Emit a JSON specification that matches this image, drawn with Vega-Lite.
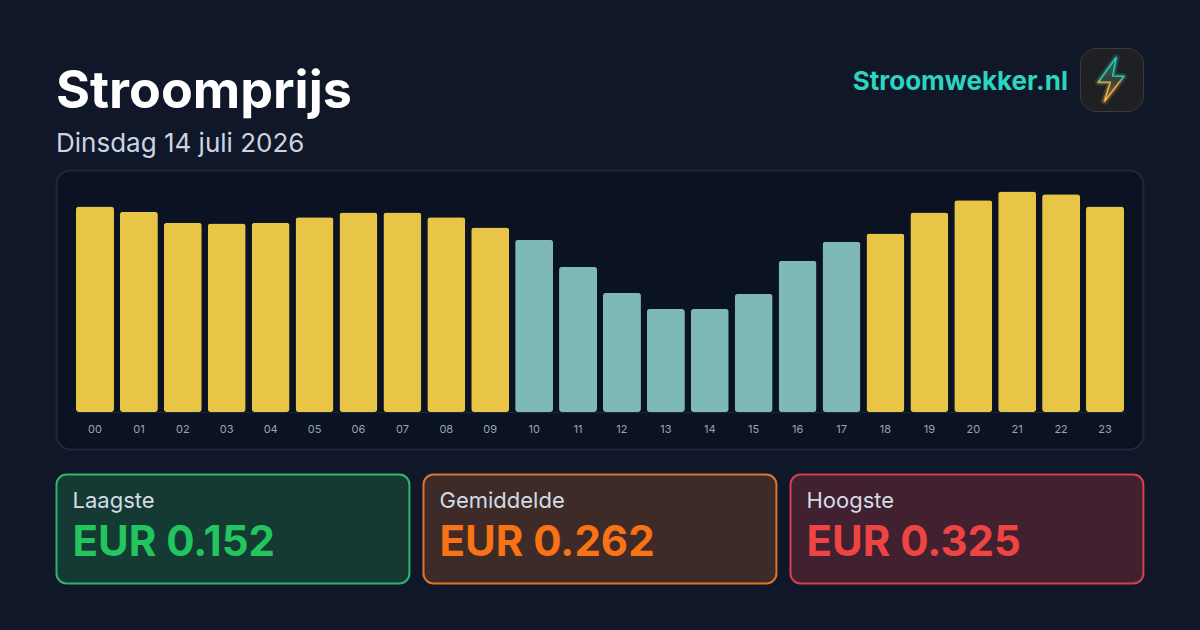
{
"$schema":"https://vega.github.io/schema/vega-lite/v6.json",
"background":"#0f1729",
"padding":{"left":55.5,"top":47,"right":55.5,"bottom":46},
"config":{"font":"Inter","view":{"stroke":null},"concat":{"spacing":0}},
"spacing":11.5,
"vconcat":[
 {"bounds":"flush","spacing":11.5,"hconcat":[
  {"width":1011.5,"height":110,
   "data":{"values":[
    {"tekst":"Stroomprijs","regel":"titel","rij":"boven","kant":"links"},
    {"tekst":"Dinsdag 14 juli 2026","regel":"datum","rij":"onder","kant":"links"},
    {"tekst":"Stroomwekker.nl","regel":"merk","rij":"boven","kant":"rechts"}]},
   "encoding":{
    "x":{"field":"kant","type":"nominal","axis":null,"scale":{"type":"point","padding":0,"domain":["links","rechts"],"range":[-0.5,1011.5]}},
    "y":{"field":"rij","type":"nominal","axis":null,"scale":{"type":"point","padding":0,"domain":["boven","onder"],"range":[41.5,103.5]}},
    "text":{"field":"tekst"}},
   "layer":[
    {"transform":[{"filter":"datum.regel==='titel'"}],"mark":{"type":"text","align":"left","baseline":"alphabetic","dy":18,"fontSize":52,"fontWeight":700,"color":"#ffffff"}},
    {"transform":[{"filter":"datum.regel==='datum'"}],"mark":{"type":"text","align":"left","baseline":"alphabetic","fontSize":26,"fontWeight":400,"color":"#cbd5e1"}},
    {"transform":[{"filter":"datum.regel==='merk'"}],"mark":{"type":"text","align":"right","baseline":"alphabetic","fontSize":26,"fontWeight":700,"color":"#2dd4bf"}}
   ]},
  {"width":63,"height":63,
   "view":{"fill":"#1f2024","stroke":"#3a3c40","strokeWidth":1,"cornerRadius":16},
   "data":{"values":[{"merk":"Stroomwekker.nl"}]},
   "layer":[
    {"mark":{"type":"point","shape":"M0.21,-0.99L-0.59,0.12L-0.05,0.12L-0.32,0.99L0.55,-0.14L0.05,-0.16Z","size":1936,"filled":false,"opacity":0.15,"strokeWidth":7,"strokeJoin":"round","stroke":{"gradient":"linear","x1":0,"y1":0,"x2":0,"y2":1,"stops":[{"offset":0,"color":"#2dd4bf"},{"offset":0.45,"color":"#2dd4bf"},{"offset":0.6,"color":"#f5b041"},{"offset":1,"color":"#f5b041"}]}}},
    {"mark":{"type":"point","shape":"M0.21,-0.99L-0.59,0.12L-0.05,0.12L-0.32,0.99L0.55,-0.14L0.05,-0.16Z","size":1936,"filled":false,"opacity":0.35,"strokeWidth":3.5,"strokeJoin":"round","stroke":{"gradient":"linear","x1":0,"y1":0,"x2":0,"y2":1,"stops":[{"offset":0,"color":"#2dd4bf"},{"offset":0.45,"color":"#2dd4bf"},{"offset":0.6,"color":"#f5b041"},{"offset":1,"color":"#f5b041"}]}}},
    {"mark":{"type":"point","shape":"M0.21,-0.99L-0.59,0.12L-0.05,0.12L-0.32,0.99L0.55,-0.14L0.05,-0.16Z","size":1936,"filled":false,"opacity":1,"strokeWidth":1.2,"fill":{"gradient":"linear","x1":0,"y1":0,"x2":0,"y2":1,"stops":[{"offset":0,"color":"#1f6f68"},{"offset":0.5,"color":"#3a4036"},{"offset":1,"color":"#8a6a2c"}]},"fillOpacity":1,"stroke":{"gradient":"linear","x1":0,"y1":0,"x2":0,"y2":1,"stops":[{"offset":0,"color":"#2dd4bf"},{"offset":0.45,"color":"#2dd4bf"},{"offset":0.6,"color":"#f7bd5a"},{"offset":1,"color":"#f7bd5a"}]}},"encoding":{}}
   ]}
 ]},
 {"spacing":23,"vconcat":[
 {"width":1087,"height":279,
  "view":{"fill":"#0b1322","stroke":"#1e293b","strokeWidth":2,"cornerRadius":14},
  "data":{"values":[
   {"uur":"00","prijs":0.303,"niveau":"hoog"},{"uur":"01","prijs":0.295,"niveau":"hoog"},{"uur":"02","prijs":0.279,"niveau":"hoog"},{"uur":"03","prijs":0.278,"niveau":"hoog"},
   {"uur":"04","prijs":0.279,"niveau":"hoog"},{"uur":"05","prijs":0.287,"niveau":"hoog"},{"uur":"06","prijs":0.294,"niveau":"hoog"},{"uur":"07","prijs":0.294,"niveau":"hoog"},
   {"uur":"08","prijs":0.287,"niveau":"hoog"},{"uur":"09","prijs":0.272,"niveau":"hoog"},{"uur":"10","prijs":0.254,"niveau":"laag"},{"uur":"11","prijs":0.214,"niveau":"laag"},
   {"uur":"12","prijs":0.176,"niveau":"laag"},{"uur":"13","prijs":0.152,"niveau":"laag"},{"uur":"14","prijs":0.152,"niveau":"laag"},{"uur":"15","prijs":0.174,"niveau":"laag"},
   {"uur":"16","prijs":0.223,"niveau":"laag"},{"uur":"17","prijs":0.251,"niveau":"laag"},{"uur":"18","prijs":0.263,"niveau":"hoog"},{"uur":"19","prijs":0.294,"niveau":"hoog"},
   {"uur":"20","prijs":0.312,"niveau":"hoog"},{"uur":"21","prijs":0.325,"niveau":"hoog"},{"uur":"22","prijs":0.321,"niveau":"hoog"},{"uur":"23","prijs":0.303,"niveau":"hoog"}]},
  "mark":{"type":"bar","cornerRadius":3},
  "encoding":{
   "x":{"field":"uur","type":"ordinal","title":null,"scale":{"range":[19.5,1067.5],"paddingInner":0.135,"paddingOuter":0},
     "axis":{"orient":"bottom","offset":-37.4,"labelAngle":0,"labelFontSize":11,"labelColor":"#9aa3b2","labelPadding":11.5,"ticks":false,"domain":true,"domainColor":"#1e293b","domainWidth":1,"labelFont":"Inter"}},
   "y":{"field":"prijs","type":"quantitative","axis":null,"scale":{"domain":[0,0.325],"range":[241.6,21],"nice":false}},
   "color":{"field":"niveau","type":"nominal","legend":null,"scale":{"domain":["hoog","laag"],"range":["#e8c547","#7fb8b8"]}}
  }},
 {"bounds":"flush","spacing":14,"hconcat":[
  {"width":352.9,"height":109,"view":{"fill":"#153a33","stroke":"#2fb765","strokeWidth":2,"cornerRadius":10},
   "data":{"values":[{"tekst":"Laagste","regel":"naam"},{"tekst":"EUR 0.152","regel":"waarde"}]},
   "encoding":{"x":{"datum":0,"type":"quantitative","axis":null,"scale":{"domain":[0,1],"range":[16,352]}},"y":{"field":"regel","type":"nominal","axis":null,"scale":{"type":"point","padding":0,"domain":["naam","waarde"],"range":[33,81]}},"text":{"field":"tekst"}},
   "layer":[
    {"transform":[{"filter":"datum.regel==='naam'"}],"mark":{"type":"text","align":"left","baseline":"alphabetic","fontSize":22,"color":"#d3dce6"}},
    {"transform":[{"filter":"datum.regel==='waarde'"}],"mark":{"type":"text","align":"left","baseline":"alphabetic","fontSize":42,"fontWeight":700,"color":"#22c55e"}}]},
  {"width":352.9,"height":109,"view":{"fill":"#3e2b28","stroke":"#e0752a","strokeWidth":2,"cornerRadius":10},
   "data":{"values":[{"tekst":"Gemiddelde","regel":"naam"},{"tekst":"EUR 0.262","regel":"waarde"}]},
   "encoding":{"x":{"datum":0,"type":"quantitative","axis":null,"scale":{"domain":[0,1],"range":[16,352]}},"y":{"field":"regel","type":"nominal","axis":null,"scale":{"type":"point","padding":0,"domain":["naam","waarde"],"range":[33,81]}},"text":{"field":"tekst"}},
   "layer":[
    {"transform":[{"filter":"datum.regel==='naam'"}],"mark":{"type":"text","align":"left","baseline":"alphabetic","fontSize":22,"color":"#d3dce6"}},
    {"transform":[{"filter":"datum.regel==='waarde'"}],"mark":{"type":"text","align":"left","baseline":"alphabetic","fontSize":42,"fontWeight":700,"color":"#f97316"}}]},
  {"width":352.9,"height":109,"view":{"fill":"#412030","stroke":"#d1434b","strokeWidth":2,"cornerRadius":10},
   "data":{"values":[{"tekst":"Hoogste","regel":"naam"},{"tekst":"EUR 0.325","regel":"waarde"}]},
   "encoding":{"x":{"datum":0,"type":"quantitative","axis":null,"scale":{"domain":[0,1],"range":[16,352]}},"y":{"field":"regel","type":"nominal","axis":null,"scale":{"type":"point","padding":0,"domain":["naam","waarde"],"range":[33,81]}},"text":{"field":"tekst"}},
   "layer":[
    {"transform":[{"filter":"datum.regel==='naam'"}],"mark":{"type":"text","align":"left","baseline":"alphabetic","fontSize":22,"color":"#d3dce6"}},
    {"transform":[{"filter":"datum.regel==='waarde'"}],"mark":{"type":"text","align":"left","baseline":"alphabetic","fontSize":42,"fontWeight":700,"color":"#ef4444"}}]}
 ]}
 ]}
]}
